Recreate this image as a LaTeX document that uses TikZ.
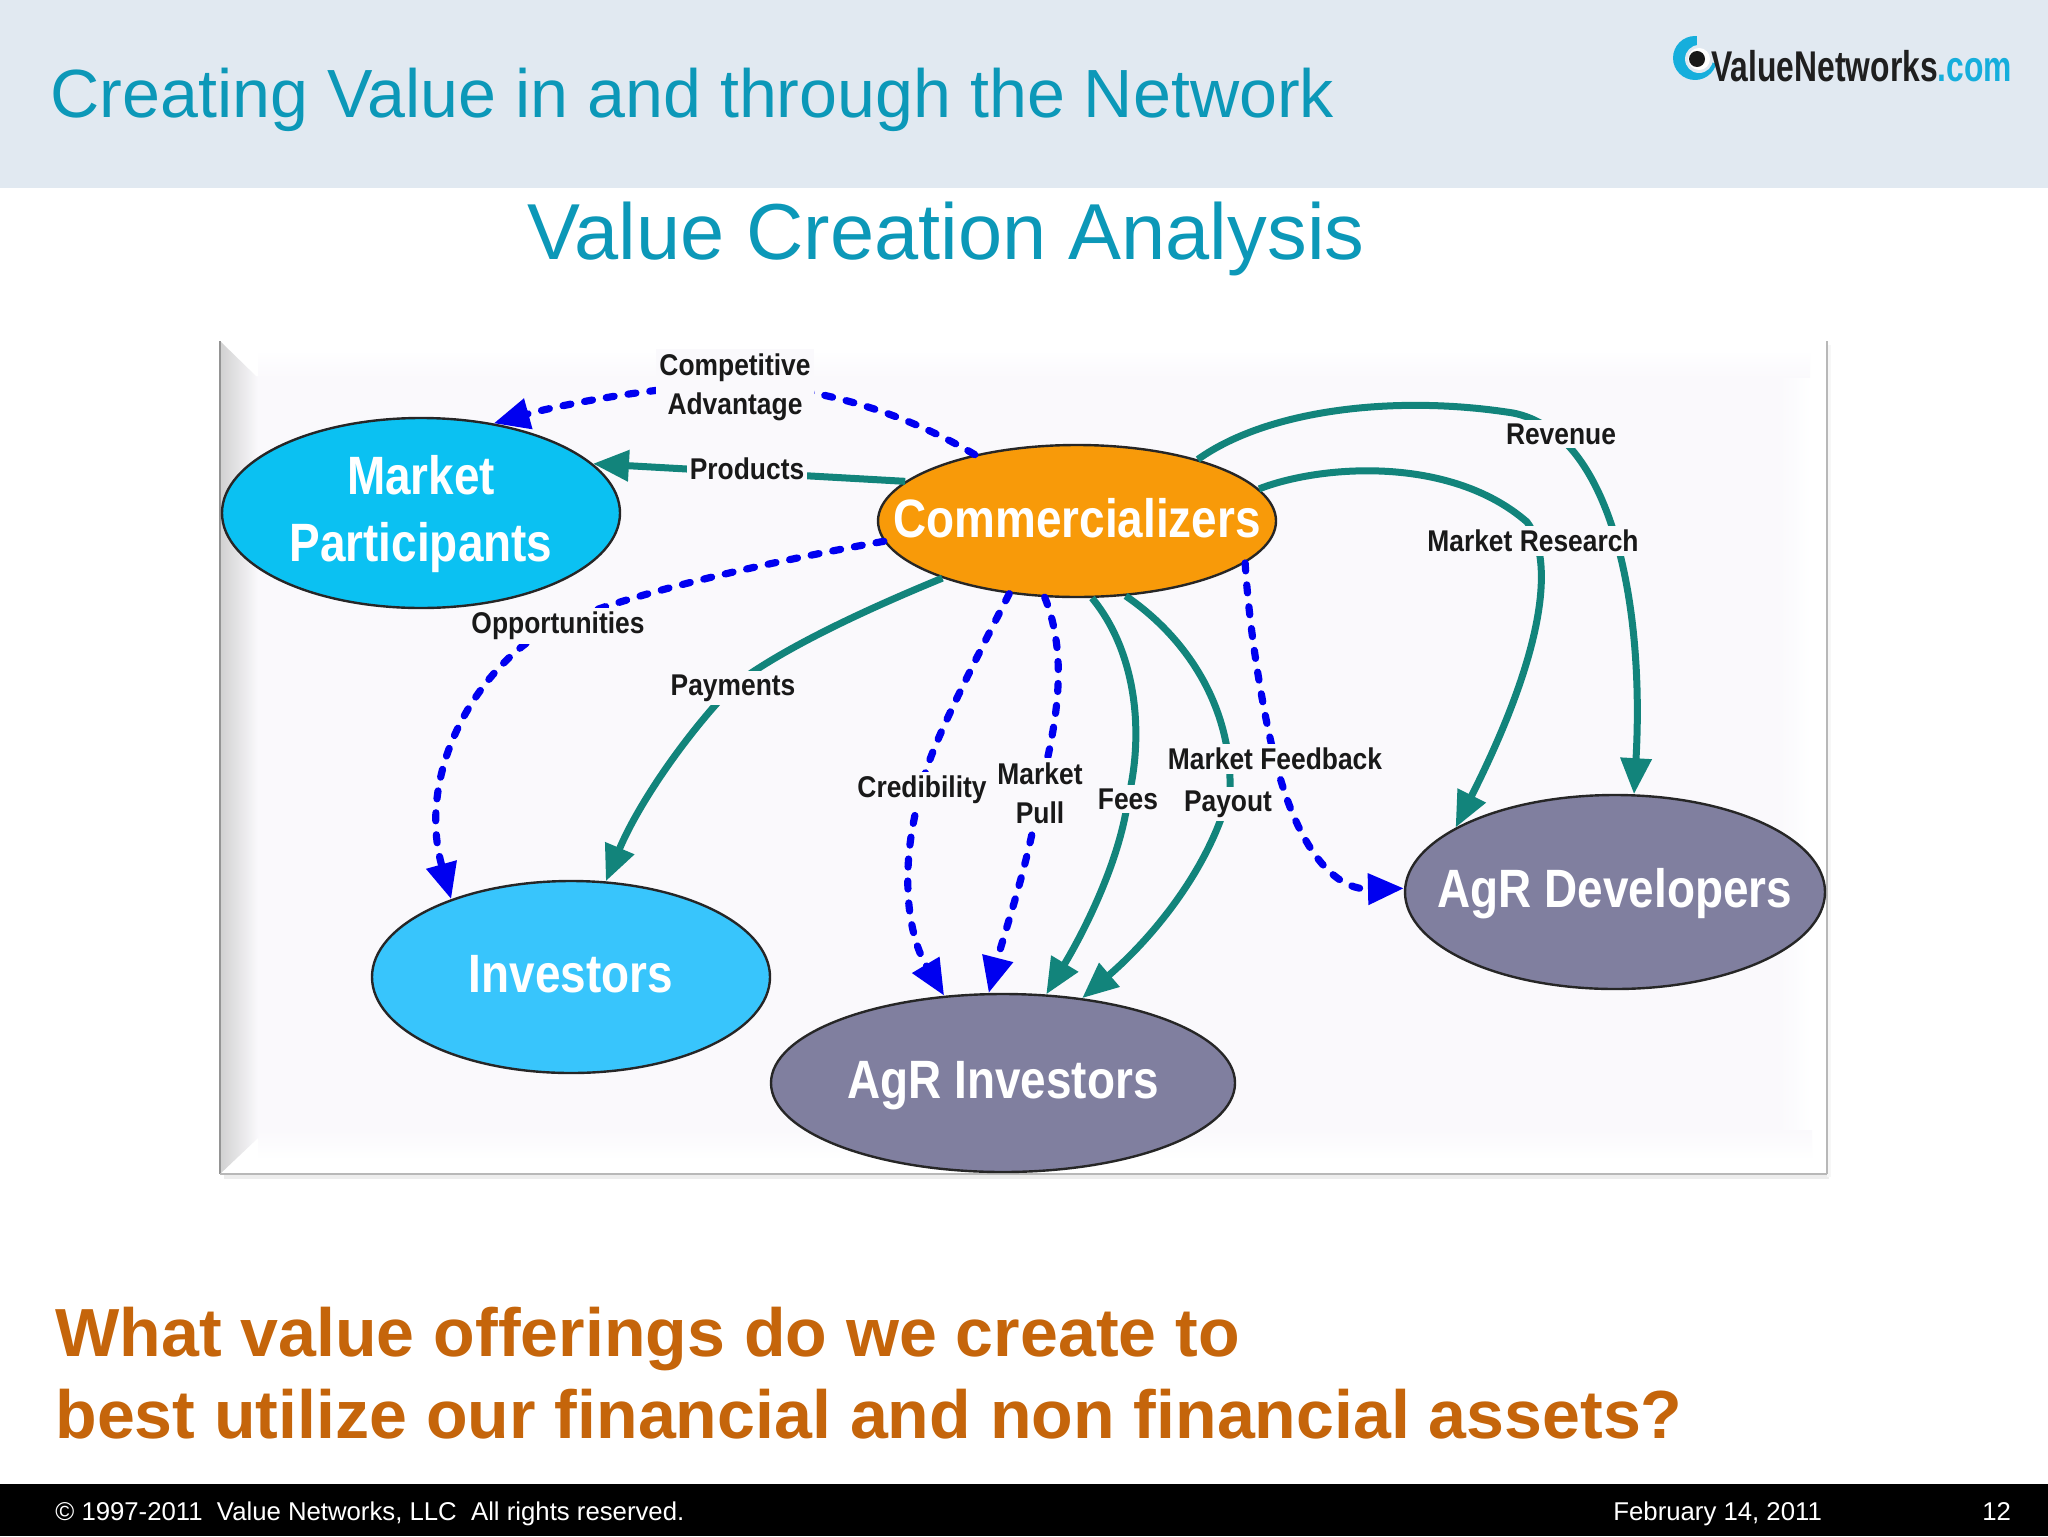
\documentclass[tikz,border=0pt]{standalone}
\usepackage{fontspec}
\usetikzlibrary{arrows.meta,shapes.geometric}
\setmainfont{Liberation Sans}
\newfontfamily\lblfont[FakeStretch=0.88]{Liberation Sans Bold}
\newfontfamily\ellfont[FakeStretch=0.85]{Liberation Sans Bold}
\newfontfamily\logofont[FakeStretch=0.74]{Liberation Sans Bold}
\definecolor{hdr}{HTML}{E1E9F1}
\definecolor{ttl}{HTML}{0C98B8}
\definecolor{panelc}{HTML}{FAF9FC}
\definecolor{tealc}{HTML}{12847B}
\definecolor{bluec}{HTML}{0000F0}
\definecolor{orangec}{HTML}{C5650B}
\definecolor{mpc}{HTML}{0BC1F2}
\definecolor{invc}{HTML}{38C5FC}
\definecolor{cmc}{HTML}{F89A09}
\definecolor{agrc}{HTML}{807F9F}
\definecolor{logoc}{HTML}{16AEDC}
\tikzset{
  x=0.5pt,y=-0.5pt,
  txt/.style={inner sep=0pt,anchor=base west},
  ttltext/.style={txt,text=ttl},
  foot/.style={txt,text=white,font=\fontsize{12.87}{15}\selectfont},
  ask/.style={txt,text=orangec,font=\bfseries\fontsize{34.05}{40}\selectfont},
  actor/.style={ellipse,draw=black!85,line width=1.2pt,inner sep=0pt},
  actortext/.style={text=white,align=center,inner sep=0pt,font=\ellfont\fontsize{27}{33.5}\selectfont},
  flow/.style={line width=3.5pt,color=tealc,-{Triangle[length=18pt,width=15pt]}},
  dflow/.style={line width=3.6pt,color=bluec,line cap=round,dash pattern=on 4pt off 7pt,-{Triangle[length=18pt,width=15pt]}},
  tag/.style={fill=panelc,text=black!90,align=center,inner xsep=1.5pt,inner ysep=2pt,font=\lblfont\fontsize{15}{19.6}\selectfont},
}
\begin{document}
\begin{tikzpicture}
\useasboundingbox (0,0) rectangle (2048,1536);
\fill[white] (0,0) rectangle (2048,1536);
% header and footer
\fill[hdr] (0,0) rectangle (2048,188);
\fill[black] (0,1484) rectangle (2048,1536);
\node[ttltext,font=\fontsize{34.1}{38}\selectfont] (title) at (50,118) {Creating Value in and through the Network};
\node[ttltext,font=\fontsize{39.7}{46}\selectfont,anchor=base] (subtitle) at (946,259) {Value Creation Analysis};
% logo
\fill[logoc] (1695,58) circle (22);
\fill[hdr] (1697,58) -- (1697,30) -- (1725,30) -- (1725,66) -- cycle;
\fill[hdr] (1699,59) circle (14);
\fill[white] (1699,59) circle (11);
\fill[black!90] (1697,59) circle (8);
\node[txt,font=\logofont\fontsize{21.5}{25}\selectfont] (logo) at (1711,82) {\textcolor{black!88}{ValueNetworks}\textcolor{logoc}{.com}};
% panel
\fill[black!7] (224,1174) rectangle (1829,1179);
\fill[black!3] (1827,345) rectangle (1831,1177);
\fill[white] (220,341) rectangle (1827,1174);
\fill[panelc] (255,376) rectangle (1790,1138);
\shade[top color=white,bottom color=panelc] (258,350) rectangle (1810,378);
\shade[left color=panelc,right color=white] (1780,378) rectangle (1812,1138);
\shade[top color=panelc,bottom color=white] (258,1130) rectangle (1812,1160);
\shade[left color=black!18,right color=panelc] (220,341) -- (258,378) -- (258,1138) -- (220,1174) -- cycle;
\draw[black!42,line width=1.2pt] (220,341) -- (220,1174);
\draw[black!28,line width=1.2pt] (220,1174) -- (1827,1174);
\draw[black!28,line width=1.2pt] (1827,341) -- (1827,1174);
% actors
\node[actor,fill=mpc,minimum width=199pt,minimum height=95pt,label={[actortext,yshift=-0.6pt]center:Market\\Participants}] (mp) at (421,513) {};
\node[actor,fill=cmc,minimum width=199pt,minimum height=76pt,label={[actortext,yshift=1.3pt]center:Commercializers}] (cm) at (1077,521) {};
\node[actor,fill=invc,minimum width=199pt,minimum height=96pt,label={[actortext,yshift=1.3pt]center:Investors}] (inv) at (571,977) {};
\node[actor,fill=agrc,minimum width=232pt,minimum height=89pt,label={[actortext,yshift=-1.3pt]center:AgR Investors}] (agi) at (1003,1083) {};
\node[actor,fill=agrc,minimum width=210pt,minimum height=97pt,label={[actortext,yshift=-0.6pt]center:AgR Developers}] (agd) at (1615,892) {};
% waypoints on the connectors
\coordinate (wComp) at (735,385);
\coordinate (wOpp) at (558,624);
\coordinate (wPay) at (733,686);
\coordinate (wCred) at (922,788);
\coordinate (wPull) at (1040,790);
\coordinate (wFees) at (1128,799);
\coordinate (wPayo) at (1230,790);
\coordinate (wFeed) at (1275,759);
\coordinate (wRev) at (1513,413);
\coordinate (wRes) at (1527,522);
% connectors
\draw[dflow] (cm.147) .. controls (900,410) and (810,385) .. (wComp) .. controls (660,385) and (560,405) .. (mp.51);
\draw[flow] (cm.167) -- (mp.16);
\draw[dflow] (cm.186) .. controls (780,560) and (640,590) .. (wOpp) .. controls (480,660) and (415,770) .. (inv.147);
\draw[flow] (cm.203) .. controls (860,612) and (780,650) .. (wPay) .. controls (690,730) and (640,800) .. (inv.70);
\draw[dflow] (cm.227) .. controls (960,690) and (925,760) .. (wCred) .. controls (900,860) and (905,930) .. (agi.124);
\draw[dflow] (cm.247) .. controls (1070,660) and (1055,730) .. (wPull) .. controls (1030,860) and (1005,930) .. (agi.99);
\draw[flow] (cm.281) .. controls (1135,650) and (1145,730) .. (wFees) .. controls (1120,860) and (1085,930) .. (agi.64);
\draw[flow] (cm.303) .. controls (1190,640) and (1232,710) .. (wPayo) .. controls (1210,870) and (1150,940) .. (agi.47);
\draw[dflow] (cm.346) .. controls (1250,640) and (1265,720) .. (wFeed) .. controls (1295,840) and (1330,890) .. (agd.179);
\draw[flow] (cm.27) .. controls (1270,408) and (1400,395) .. (wRev) .. controls (1610,432) and (1645,600) .. (agd.79);
\draw[flow] (cm.10) .. controls (1320,465) and (1450,455) .. (wRes) .. controls (1555,560) and (1545,650) .. (agd.158);
% connector labels
\node[tag] (lComp) at (735,387) {Competitive\\Advantage};
\node[tag] (lProd) at (747,469) {Products};
\node[tag] (lOpp) at (558,626) {Opportunities};
\node[tag] (lPay) at (733,688) {Payments};
\node[tag] (lCred) at (922,790) {Credibility};
\node[tag] (lPull) at (1040,793) {Market\\Pull};
\node[tag] (lFees) at (1128,799) {Fees};
\node[tag] (lFeed) at (1275,759) {Market Feedback};
\node[tag] (lPayo) at (1228,804) {Payout};
\node[tag] (lRev) at (1561,434) {Revenue};
\node[tag] (lRes) at (1533,541) {Market Research};
% bottom text
\node[ask] (ask1) at (55,1356) {What value offerings do we create to};
\node[ask] (ask2) at (55,1438) {best utilize our financial and non financial assets?};
\node[foot] (f1) at (55,1520) {© 1997-2011\ \ Value Networks, LLC\ \ All rights reserved.};
\node[foot] (f2) at (1613,1520) {February 14, 2011};
\node[foot] (f3) at (1982,1520) {12};
\end{tikzpicture}
\end{document}
